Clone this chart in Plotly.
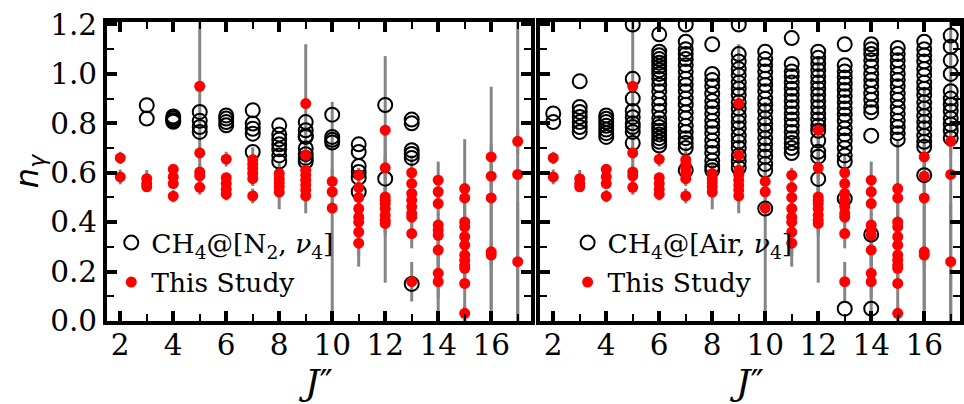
import plotly.graph_objects as go

# ---------------- data ----------------
J_LEVELS = list(range(2, 18))

# This study: n_gamma values per J'' and their uncertainties
TS_N = [
    [0.66, 0.583],
    [0.576, 0.556, 0.543],
    [0.614, 0.583, 0.556, 0.505],
    [0.95, 0.68, 0.603, 0.587, 0.541],
    [0.655, 0.58, 0.556, 0.533, 0.513],
    [0.653, 0.634, 0.617, 0.597, 0.576, 0.506],
    [0.597, 0.576, 0.559, 0.543, 0.522],
    [0.88, 0.671, 0.61, 0.59, 0.57, 0.55, 0.53, 0.506],
    [0.565, 0.523, 0.457],
    [0.59, 0.54, 0.50, 0.455, 0.42, 0.40, 0.36, 0.315],
    [0.772, 0.62, 0.502, 0.489, 0.475, 0.455, 0.428, 0.408, 0.395],
    [0.60, 0.556, 0.516, 0.489, 0.462, 0.435, 0.42, 0.354, 0.159],
    [0.57, 0.523, 0.475, 0.388, 0.368, 0.347, 0.287, 0.193, 0.159],
    [0.536, 0.498, 0.401, 0.381, 0.341, 0.307, 0.267, 0.246, 0.226, 0.213, 0.152, 0.031],
    [0.664, 0.586, 0.498, 0.28, 0.267],
    [0.727, 0.593, 0.24],
]
TS_ERR = [
    [0.025, 0.03],
    [0.035, 0.02, 0.02],
    [0.02, 0.02, 0.02, 0.025],
    [0.35, 0.03, 0.03, 0.03, 0.03],
    [0.03, 0.02, 0.02, 0.02, 0.025],
    [0.05, 0.03, 0.03, 0.03, 0.03, 0.03],
    [0.04, 0.03, 0.03, 0.03, 0.07],
    [0.24, 0.04, 0.03, 0.03, 0.03, 0.03, 0.03, 0.07],
    [0.05, 0.05, 0.43],
    [0.03, 0.04, 0.04, 0.05, 0.05, 0.05, 0.14, 0.05],
    [0.30, 0.05, 0.05, 0.05, 0.05, 0.30, 0.05, 0.05, 0.05],
    [0.07, 0.04, 0.04, 0.04, 0.04, 0.04, 0.04, 0.06, 0.08],
    [0.075, 0.05, 0.05, 0.05, 0.05, 0.05, 0.08, 0.10, 0.16],
    [0.20, 0.05, 0.05, 0.05, 0.05, 0.05, 0.05, 0.05, 0.05, 0.05, 0.152, 0.031],
    [0.05, 0.05, 0.45, 0.28, 0.05],
    [0.05, 0.62, 0.24],
]

# CH4 broadened by N2 (nu4) literature values
N2_N = [
    [],
    [0.873, 0.819],
    [0.828, 0.82, 0.812, 0.806],
    [0.846, 0.81, 0.785, 0.765],
    [0.832, 0.819, 0.805, 0.792],
    [0.853, 0.799, 0.778, 0.758, 0.684],
    [0.792, 0.755, 0.735, 0.715, 0.695, 0.67, 0.645],
    [0.805, 0.772, 0.75, 0.745, 0.698, 0.675, 0.66, 0.645],
    [0.835, 0.745, 0.733, 0.722],
    [0.715, 0.684, 0.627, 0.603, 0.58, 0.523],
    [0.874, 0.576],
    [0.815, 0.80, 0.691, 0.676, 0.66, 0.15],
    [], [], [], [],
]

# CH4 broadened by air (nu4) literature values
AIR_N = [
    [0.84, 0.805],
    [0.97, 0.866, 0.846, 0.826, 0.805, 0.785, 0.765],
    [0.832, 0.818, 0.805, 0.79, 0.775, 0.76, 0.745],
    [1.2, 0.98, 0.90, 0.85, 0.825, 0.80, 0.785, 0.765, 0.72],
    [1.16, 1.09, 1.075, 1.06, 1.045, 1.03, 1.015, 1.0, 0.98, 0.955, 0.93, 0.9,
     0.875, 0.85, 0.82, 0.80, 0.785, 0.77, 0.755, 0.74, 0.725, 0.71],
    [1.2, 1.13, 1.10, 1.08, 1.06, 1.035, 1.01, 0.98, 0.955, 0.93, 0.90, 0.875,
     0.845, 0.82, 0.79, 0.765, 0.74, 0.72, 0.70, 0.61],
    [1.12, 1.0, 0.975, 0.95, 0.92, 0.89, 0.865, 0.84, 0.81, 0.785, 0.76, 0.73,
     0.705, 0.68, 0.65, 0.625, 0.61],
    [1.2, 1.08, 1.05, 1.02, 0.995, 0.965, 0.94, 0.915, 0.885, 0.86, 0.83, 0.805,
     0.78, 0.75, 0.725, 0.70, 0.67, 0.645, 0.62],
    [1.09, 1.06, 1.035, 1.01, 0.98, 0.955, 0.93, 0.90, 0.875, 0.85, 0.82, 0.795,
     0.77, 0.74, 0.715, 0.69, 0.665, 0.635, 0.61, 0.455],
    [1.145, 1.04, 1.01, 0.99, 0.965, 0.94, 0.915, 0.89, 0.865, 0.84, 0.815, 0.79,
     0.765, 0.74, 0.72, 0.70, 0.68],
    [1.09, 1.065, 1.04, 1.015, 0.99, 0.965, 0.94, 0.915, 0.89, 0.865, 0.84, 0.815,
     0.79, 0.77, 0.73, 0.685, 0.665, 0.575],
    [1.12, 1.035, 1.01, 0.985, 0.96, 0.935, 0.91, 0.885, 0.86, 0.835, 0.81, 0.78,
     0.755, 0.73, 0.70, 0.67, 0.645, 0.495, 0.05],
    [1.12, 1.10, 1.08, 1.055, 1.03, 1.0, 0.975, 0.95, 0.92, 0.895, 0.865, 0.845,
     0.75, 0.35, 0.05],
    [1.105, 1.08, 1.055, 1.03, 1.0, 0.975, 0.95, 0.92, 0.895, 0.865, 0.84, 0.81,
     0.785, 0.76, 0.735],
    [1.13, 1.10, 1.075, 1.05, 1.02, 0.995, 0.965, 0.94, 0.915, 0.885, 0.86, 0.83,
     0.805, 0.78, 0.75, 0.725, 0.705, 0.59],
    [1.155, 1.11, 1.055, 1.0, 0.93, 0.9, 0.875, 0.85, 0.82, 0.795, 0.77, 0.74],
]

LABEL_N2 = "CH<sub>4</sub>@[N<sub>2</sub>, <i>ν</i><sub>4</sub>]"
LABEL_AIR = "CH<sub>4</sub>@[Air, <i>ν</i><sub>4</sub>]"
LABEL_TS = "This Study"
X_TICKS = [2, 4, 6, 8, 10, 12, 14, 16]


def flatten(groups):
    xs, ys = [], []
    for j, vals in zip(J_LEVELS, groups):
        xs += [j] * len(vals)
        ys += list(vals)
    return xs, ys


ts_x, ts_y = flatten(TS_N)
_, ts_e = flatten(TS_ERR)
n2_x, n2_y = flatten(N2_N)
air_x, air_y = flatten(AIR_N)

SERIF = "DejaVu Serif"
fig = go.Figure()

for xa, ya, lg, lit_x, lit_y, lit_label in [
    ("x", "y", "legend", n2_x, n2_y, LABEL_N2),
    ("x2", "y2", "legend2", air_x, air_y, LABEL_AIR),
]:
    # error bars (drawn below)
    fig.add_trace(go.Scatter(
        x=ts_x, y=ts_y, xaxis=xa, yaxis=ya, mode="markers",
        marker=dict(size=2, color="rgba(0,0,0,0)"),
        error_y=dict(type="data", array=ts_e, visible=True,
                     color="#858585", thickness=3, width=0),
        showlegend=False, hoverinfo="skip"))
    # literature values
    fig.add_trace(go.Scatter(
        x=lit_x, y=lit_y, xaxis=xa, yaxis=ya, mode="markers",
        marker=dict(symbol="circle-open", size=14, color="black",
                    line=dict(width=2, color="black")),
        name=lit_label, legend=lg, legendgroup=lg + "a"))
    # this study markers
    fig.add_trace(go.Scatter(
        x=ts_x, y=ts_y, xaxis=xa, yaxis=ya, mode="markers",
        marker=dict(symbol="circle", size=11, color="#ff0000"),
        name=LABEL_TS, legend=lg, legendgroup=lg + "b"))

axis_common = dict(
    showline=True, linewidth=4, linecolor="black", mirror="ticks",
    ticks="inside", ticklen=10, tickwidth=3.5, tickcolor="black",
    showgrid=False, zeroline=False,
    tickfont=dict(family=SERIF, size=29.5, color="black"),
)
minor_x = dict(dtick=1, ticks="inside", ticklen=7, tickwidth=2, tickcolor="black", showgrid=False)
minor_y = dict(dtick=0.1, ticks="inside", ticklen=7, tickwidth=2, tickcolor="black", showgrid=False)

xtitle = dict(text="<i>J</i>″", font=dict(family=SERIF, size=36, color="black"), standoff=4)

fig.update_layout(
    width=964, height=404, autosize=False,
    margin=dict(l=107, r=0, t=22, b=83),
    paper_bgcolor="white", plot_bgcolor="white",
    xaxis=dict(domain=[0, 0.497], range=[1.5, 17.5], tickvals=X_TICKS,
               minor=minor_x, title=xtitle, ticklabelstandoff=-5, **axis_common),
    xaxis2=dict(domain=[0.5076, 1.0], range=[1.5, 17.35], tickvals=X_TICKS,
                minor=minor_x, title=xtitle, ticklabelstandoff=-5, anchor="y2", **axis_common),
    yaxis=dict(range=[0, 1.21], dtick=0.2, tick0=0, tickformat=".1f", minor=minor_y,
               title=dict(text="<i>n</i><sub><i>γ</i></sub>",
                          font=dict(family="DejaVu Sans", size=32, color="black"),
                          standoff=0),
               **axis_common),
    yaxis2=dict(range=[0, 1.21], dtick=0.2, tick0=0, minor=minor_y,
                showticklabels=False, anchor="x2", matches="y", **axis_common),
    legend=dict(x=0.005, xanchor="left", y=0.196, yanchor="middle",
                bgcolor="rgba(0,0,0,0)", borderwidth=0, tracegroupgap=2,
                font=dict(family=SERIF, size=26.5, color="black")),
    legend2=dict(x=0.540, xanchor="left", y=0.196, yanchor="middle",
                 bgcolor="rgba(0,0,0,0)", borderwidth=0, tracegroupgap=2,
                 font=dict(family=SERIF, size=26.5, color="black")),
)

fig.write_html("out.html")
